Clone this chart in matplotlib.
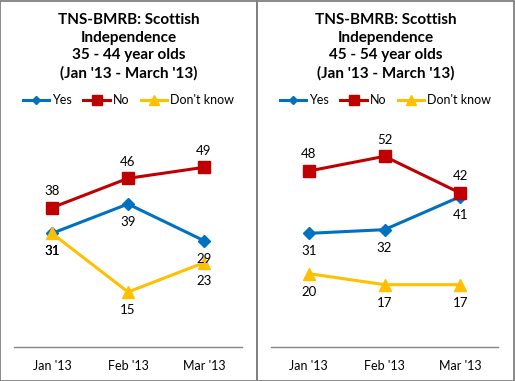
import matplotlib
matplotlib.use("Agg")
import matplotlib.pyplot as plt
from matplotlib.lines import Line2D
from matplotlib.patches import Rectangle

plt.rcParams["font.family"] = ["Lato", "DejaVu Sans"]

months = ["Jan '13", "Feb '13", "Mar '13"]
series_names = ["Yes", "No", "Don't know"]

# 35 - 44 year olds
yes_35 = [31, 39, 29]
no_35 = [38, 46, 49]
dk_35 = [31, 15, 23]

# 45 - 54 year olds
yes_45 = [31, 32, 41]
no_45 = [48, 52, 42]
dk_45 = [20, 17, 17]

titles = [
    "TNS-BMRB: Scottish\nIndependence\n35 - 44 year olds\n(Jan '13 - March '13)",
    "TNS-BMRB: Scottish\nIndependence\n45 - 54 year olds\n(Jan '13 - March '13)",
]

colors = ["#0070C0", "#C00000", "#FFC000"]
markers = ["D", "s", "^"]
msizes = [6, 8, 9]
# label offsets in points: No above, others below
offsets = [-13, 12, -13]

W, H = 515, 381
fig = plt.figure(figsize=(W / 100, H / 100), dpi=100)

panels = [
    (0, 257, 14, 242, [yes_35, no_35, dk_35], titles[0]),
    (257, 514, 271, 498, [yes_45, no_45, dk_45], titles[1]),
]

for px0, px1, ax0, ax1, data, title in panels:
    # panel border
    fig.patches.append(Rectangle((px0 / W, 0.5 / H), (px1 - px0) / W, (H - 1.5) / H,
                                 transform=fig.transFigure, fill=False,
                                 edgecolor="#808080", linewidth=1.3))
    ax = fig.add_axes([ax0 / W, (H - 347) / H, (ax1 - ax0) / W, (347 - 127) / H])
    x = range(len(months))
    for vals, c, m, ms, off in zip(data, colors, markers, msizes, offsets):
        ax.plot(x, vals, color=c, marker=m, markersize=ms, linewidth=2.2, clip_on=False)
        for xi, v in zip(x, vals):
            ax.annotate(str(v), (xi, v), xytext=(0, off), textcoords="offset points",
                        ha="center", va="center", fontsize=9.5, color="#000000")
    ax.set_xlim(-0.5, 2.5)
    ax.set_ylim(0, 60)
    ax.set_xticks(list(x))
    ax.set_xticklabels(months, fontsize=9)
    ax.tick_params(axis="x", length=0, pad=9)
    ax.set_yticks([])
    for s in ["top", "left", "right"]:
        ax.spines[s].set_visible(False)
    ax.spines["bottom"].set_color("#868686")
    ax.spines["bottom"].set_linewidth(1)

    cx = (px0 + px1) / 2 / W
    fig.text(cx, 1 - 13 / H, title, ha="center", va="top", fontsize=11,
             fontweight="bold", linespacing=1.32)

    handles = [Line2D([], [], color=c, marker=m, markersize=ms - 1.5, linewidth=2.2)
               for c, m, ms in zip(colors, markers, msizes)]
    fig.legend(handles, series_names, loc="center", bbox_to_anchor=(cx, 1 - 100 / H),
               ncol=3, frameon=False, fontsize=9, handlelength=2.1,
               handletextpad=0.25, columnspacing=0.9)

fig.savefig("out.png", dpi=100)
